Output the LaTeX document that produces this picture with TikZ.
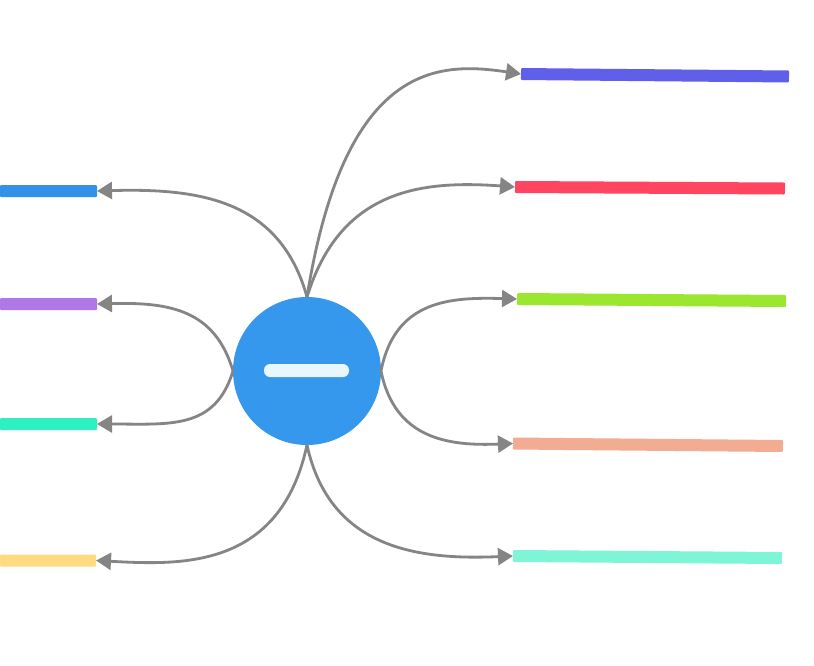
\documentclass[tikz,border=0pt]{standalone}
\usetikzlibrary{arrows.meta}
\definecolor{cBlueR}{HTML}{5F5FE9}
\definecolor{cRed}{HTML}{FF4560}
\definecolor{cGreen}{HTML}{9BE62F}
\definecolor{cSalmon}{HTML}{F2AC92}
\definecolor{cMint}{HTML}{7DF5D6}
\definecolor{cBlueL}{HTML}{3391E8}
\definecolor{cPurple}{HTML}{B077E6}
\definecolor{cTeal}{HTML}{2EF0C0}
\definecolor{cYellow}{HTML}{FFDA80}
\definecolor{cCircle}{HTML}{3598EC}
\definecolor{cInner}{HTML}{E8F7FD}
\definecolor{cLine}{HTML}{858585}
\tikzset{
  barbox/.style={rectangle, minimum height=12pt, inner sep=0pt, outer sep=0pt, rounded corners=1pt, draw=none},
  link/.style={draw=cLine, line width=2.8pt, -{Triangle[length=15pt,width=17pt]}},
}
\begin{document}
\begin{tikzpicture}[x=1pt,y=-1pt]
\useasboundingbox (0,0) rectangle (814,665);
\fill[white] (0,0) rectangle (814,665);
% central node
\node[circle, fill=cCircle, minimum size=148pt, inner sep=0pt, outer sep=0pt] (c) at (307,371) {};
\node[rectangle, rounded corners=6pt, fill=cInner, minimum width=85pt, minimum height=13pt, inner sep=0pt] (minus) at (306.5,370.5) {};
% right bars
\node[barbox, fill=cBlueR, minimum width=268pt, rotate=-0.53] (r1) at (655,75.25) {};
\node[barbox, fill=cRed, minimum width=270pt, rotate=-0.32] (r2) at (650,187.75) {};
\node[barbox, fill=cGreen, minimum width=269pt, rotate=-0.43] (r3) at (651.5,300) {};
\node[barbox, fill=cSalmon, minimum width=270pt, rotate=-0.53] (r4) at (648,444.75) {};
\node[barbox, fill=cMint, minimum width=269pt, rotate=-0.43] (r5) at (647.5,557) {};
% left bars
\node[barbox, fill=cBlueL, minimum width=97pt] (l1) at (48.5,191) {};
\node[barbox, fill=cPurple, minimum width=97pt] (l2) at (48.5,304) {};
\node[barbox, fill=cTeal, minimum width=97pt] (l3) at (48.5,424) {};
\node[barbox, fill=cYellow, minimum width=96pt] (l4) at (48,560.5) {};
% connectors
\draw[link] (c.north) .. controls (345,60) and (440,62) .. (r1.west);
\draw[link] (c.north) .. controls (340,190) and (420,180) .. (r2.west);
\draw[link] (c.north) .. controls (280,200) and (200,188) .. (l1.east);
\draw[link] (c.west) .. controls (215,310) and (170,302) .. (l2.east);
\draw[link] (c.west) .. controls (215,430) and (170,424) .. (l3.east);
\draw[link] (c.east) .. controls (395,300) and (450,297) .. (r3.west);
\draw[link] (c.east) .. controls (395,440) and (450,446) .. (r4.west);
\draw[link] (c.south) .. controls (280,570) and (180,565) .. (l4.east);
\draw[link] (c.south) .. controls (330,550) and (420,560) .. (r5.west);
\end{tikzpicture}
\end{document}
